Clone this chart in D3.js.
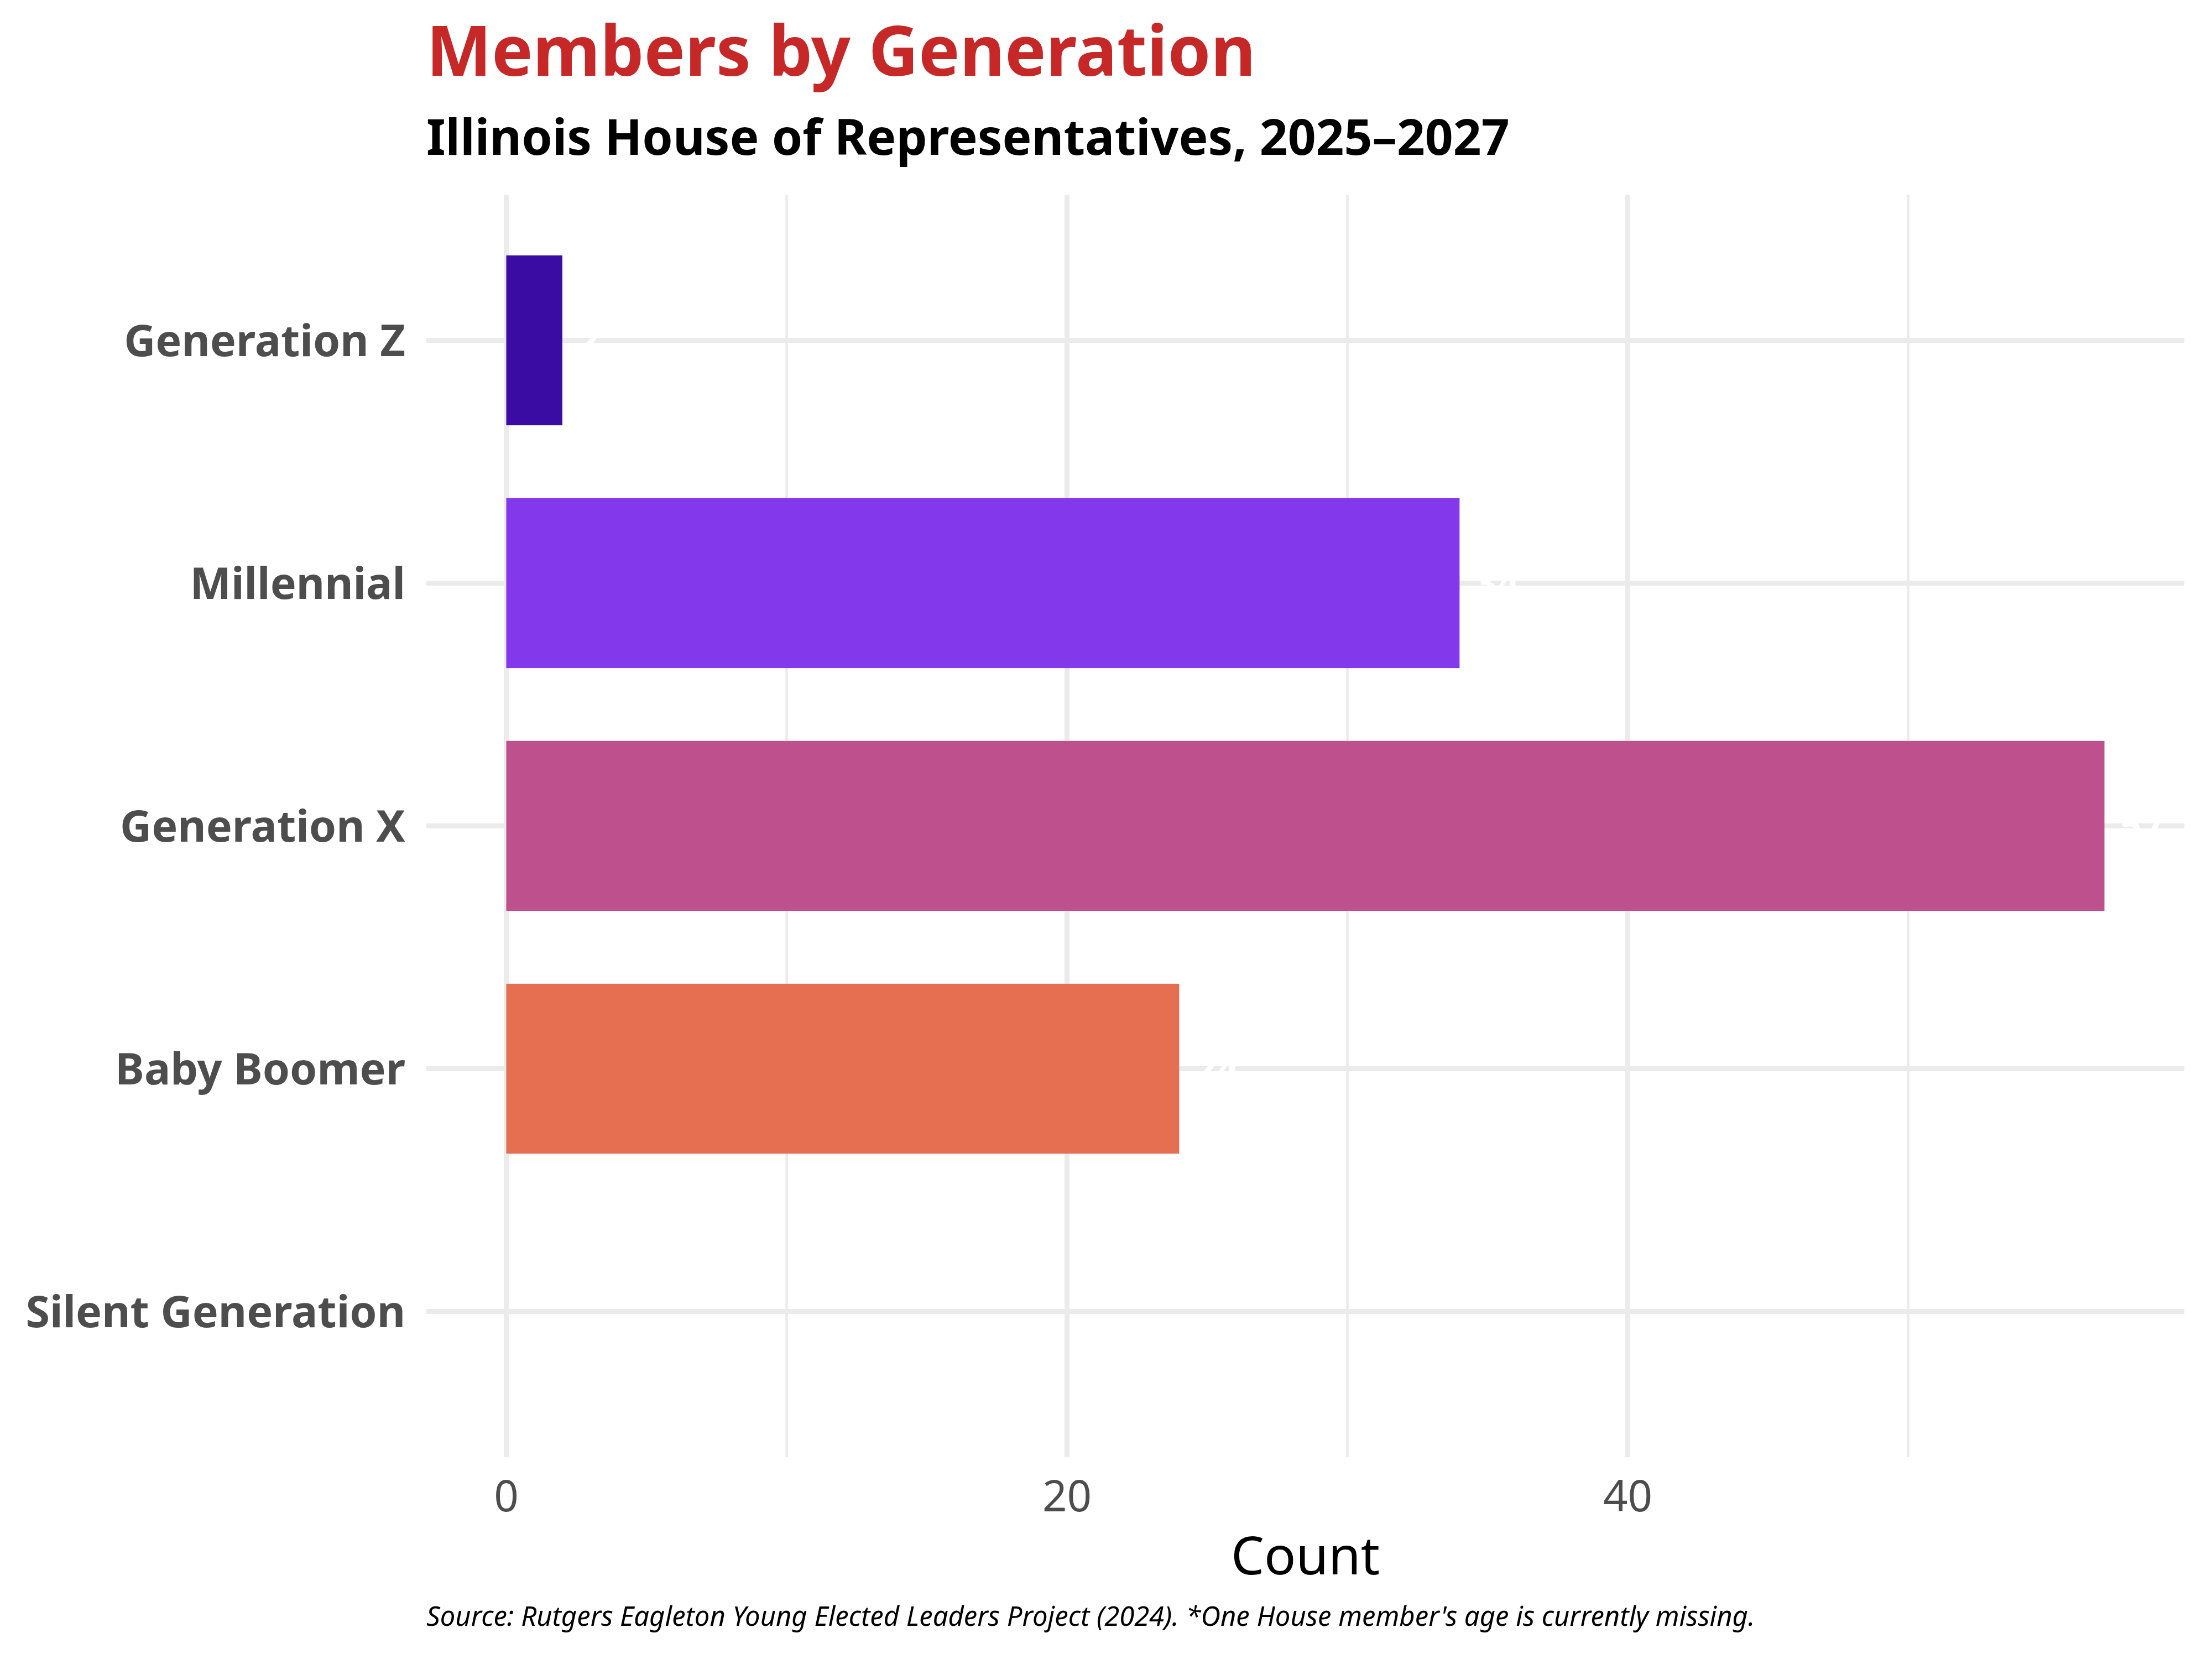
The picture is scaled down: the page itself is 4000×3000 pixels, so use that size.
<!DOCTYPE html>
<html>
<head>
<meta charset="utf-8">
<script src="https://cdn.jsdelivr.net/npm/d3@7"></script>
<style>
  body { margin: 0; background: #fff; }
  svg { display: block; }
</style>
</head>
<body>
<script>
const generations = ["Generation Z", "Millennial", "Generation X", "Baby Boomer", "Silent Generation"];
const counts = [2, 34, 57, 24, 0];
const barColors = ["#3A0CA3", "#8338EC", "#BE508E", "#E76F51", "#FFBE0B"];
const majorTicks = [0, 20, 40];
const minorTicks = [10, 30, 50];

const title = "Members by Generation";
const subtitle = "Illinois House of Representatives, 2025\u20132027";
const xTitle = "Count";
const caption = "Source: Rutgers Eagleton Young Elected Leaders Project (2024). *One House member's age is currently missing.";

const width = 4000, height = 3000;
const panel = { left: 771, right: 3950, top: 352, bottom: 2635 };
const font = "'Noto Sans', 'Open Sans', sans-serif";

const data = generations.map((g, i) => ({ gen: g, n: counts[i], color: barColors[i] }));

// ggplot-like 5% expansion on the count axis
const xMax = d3.max(counts);
const pad = xMax * 0.05;
const x = d3.scaleLinear().domain([-pad, xMax + pad]).range([panel.left, panel.right]);

const y = d3.scaleBand()
  .domain(generations)
  .range([panel.top, panel.bottom])
  .paddingInner(0.3)
  .paddingOuter(0.25);

const svg = d3.select("body").append("svg")
  .attr("width", width)
  .attr("height", height)
  .attr("viewBox", [0, 0, width, height])
  .style("font-family", font);

svg.append("rect").attr("width", width).attr("height", height).attr("fill", "#fff");

// grid
const grid = svg.append("g").attr("stroke", "#EBEBEB");
grid.selectAll(".minor")
  .data(minorTicks)
  .join("line")
  .attr("class", "minor")
  .attr("x1", d => x(d)).attr("x2", d => x(d))
  .attr("y1", panel.top).attr("y2", panel.bottom)
  .attr("stroke-width", 4.5);
grid.selectAll(".major")
  .data(majorTicks)
  .join("line")
  .attr("class", "major")
  .attr("x1", d => x(d)).attr("x2", d => x(d))
  .attr("y1", panel.top).attr("y2", panel.bottom)
  .attr("stroke-width", 9);
grid.selectAll(".hgrid")
  .data(generations)
  .join("line")
  .attr("class", "hgrid")
  .attr("x1", panel.left).attr("x2", panel.right)
  .attr("y1", d => y(d) + y.bandwidth() / 2)
  .attr("y2", d => y(d) + y.bandwidth() / 2)
  .attr("stroke-width", 9);

// bars
svg.append("g")
  .selectAll("rect")
  .data(data)
  .join("rect")
  .attr("x", x(0))
  .attr("y", d => y(d.gen))
  .attr("width", d => x(d.n) - x(0))
  .attr("height", y.bandwidth())
  .attr("fill", d => d.color);

// value labels (white, as in the original)
svg.append("g")
  .selectAll("text")
  .data(data.filter(d => d.n > 0))
  .join("text")
  .attr("x", d => x(d.n) + 28)
  .attr("y", d => y(d.gen) + y.bandwidth() / 2 + 70 * 0.357)
  .attr("fill", "#fff")
  .attr("font-size", 70)
  .attr("font-weight", "bold")
  .text(d => d.n);

// category labels
svg.append("g")
  .selectAll("text")
  .data(generations)
  .join("text")
  .attr("x", 733)
  .attr("y", d => y(d) + y.bandwidth() / 2 + 79 * 0.357)
  .attr("text-anchor", "end")
  .attr("fill", "#4D4D4D")
  .attr("font-size", 79)
  .attr("font-weight", "bold")
  .text(d => d);

// x tick labels
svg.append("g")
  .selectAll("text")
  .data(majorTicks)
  .join("text")
  .attr("x", d => x(d))
  .attr("y", 2733)
  .attr("text-anchor", "middle")
  .attr("fill", "#4D4D4D")
  .attr("font-size", 78)
  .text(d => d);

// axis title
svg.append("text")
  .attr("x", (panel.left + panel.right) / 2)
  .attr("y", 2847)
  .attr("text-anchor", "middle")
  .attr("fill", "#000")
  .attr("font-size", 95)
  .text(xTitle);

// titles
svg.append("text")
  .attr("x", panel.left)
  .attr("y", 137)
  .attr("fill", "#C62828")
  .attr("font-size", 125)
  .attr("font-weight", "bold")
  .text(title);

svg.append("text")
  .attr("x", panel.left)
  .attr("y", 280)
  .attr("fill", "#000")
  .attr("font-size", 89)
  .attr("font-weight", "bold")
  .text(subtitle);

svg.append("text")
  .attr("x", panel.left)
  .attr("y", 2940)
  .attr("fill", "#000")
  .attr("font-size", 49)
  .attr("font-style", "italic")
  .text(caption);
</script>
</body>
</html>
